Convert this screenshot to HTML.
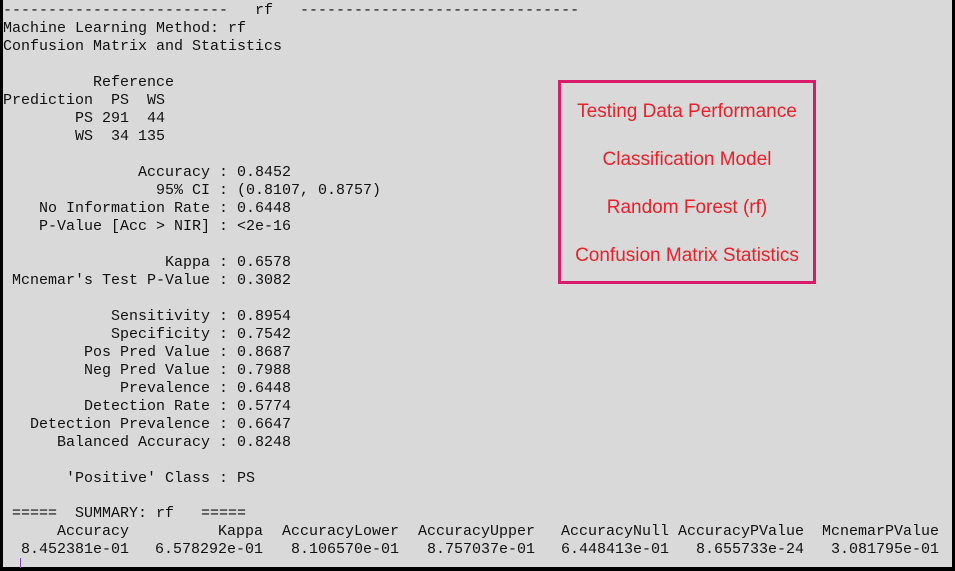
<!DOCTYPE html>
<html><head><meta charset="utf-8"><style>
html,body{margin:0;padding:0}
body{width:955px;height:571px;background:#000;position:relative;overflow:hidden}
#bg{position:absolute;left:3px;top:0;width:949px;height:567px;background:#d9d9d9}
pre{position:absolute;left:3px;top:2px;margin:0;font-family:"Liberation Mono",monospace;font-size:15px;line-height:18px;color:#111}
.s{position:absolute;font-family:"Liberation Mono",monospace;font-size:15px;color:#111;white-space:pre;text-align:right}
#box{position:absolute;left:558px;top:80px;width:252px;height:198px;border:3px solid #d81b6a}
.bt{position:absolute;left:-10px;width:272px;text-align:center;font-family:"Liberation Sans",sans-serif;font-size:19px;color:#e8202a}
</style></head><body>
<div id="bg"></div>
<pre>-------------------------   rf   -------------------------------
Machine Learning Method: rf
Confusion Matrix and Statistics

          Reference
Prediction  PS  WS
        PS 291  44
        WS  34 135

               Accuracy : 0.8452
                 95% CI : (0.8107, 0.8757)
    No Information Rate : 0.6448
    P-Value [Acc &gt; NIR] : &lt;2e-16

                  Kappa : 0.6578
 Mcnemar's Test P-Value : 0.3082

            Sensitivity : 0.8954
            Specificity : 0.7542
         Pos Pred Value : 0.8687
         Neg Pred Value : 0.7988
             Prevalence : 0.6448
         Detection Rate : 0.5774
   Detection Prevalence : 0.6647
      Balanced Accuracy : 0.8248

       'Positive' Class : PS
</pre>
<div class="s" style="left:12px;top:505px">=====  SUMMARY: rf   =====</div>
<div id="sum"></div>
<div style="position:absolute;left:20px;top:558px;width:1px;height:10px;background:#8040c0"></div>
<div id="box">
<div class="bt" style="top:18px">Testing Data Performance</div>
<div class="bt" style="top:66px">Classification Model</div>
<div class="bt" style="top:114px">Random Forest (rf)</div>
<div class="bt" style="top:162px">Confusion Matrix Statistics</div>
</div>
<script>
const headers=["Accuracy","Kappa","AccuracyLower","AccuracyUpper","AccuracyNull","AccuracyPValue","McnemarPValue"];
const values=["8.452381e-01","6.578292e-01","8.106570e-01","8.757037e-01","6.448413e-01","8.655733e-24","3.081795e-01"];
const ends=[129,263,399,535,669,804,939];
const sum=document.getElementById('sum');
function add(txt,right,top,name){
  const d=document.createElement('div');
  d.className='s';
  
  
  d.textContent=txt;
  d.style.right=(955-right)+'px';
  d.style.top=top+'px';
  sum.appendChild(d);
}
headers.forEach((h,i)=>{add(h,ends[i],523,'summary-header');add(values[i],ends[i],541,'summary-value');});
</script>
</body></html>
